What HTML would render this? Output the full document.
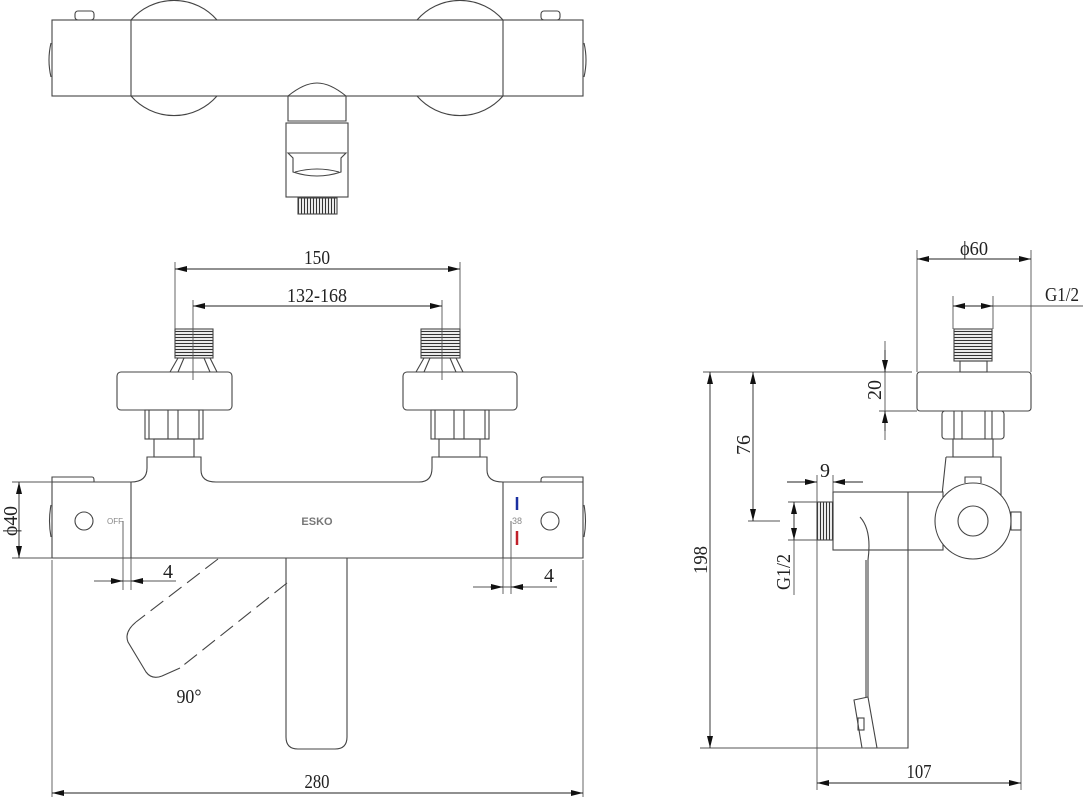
<!DOCTYPE html>
<html><head><meta charset="utf-8"><style>
html,body{margin:0;padding:0;background:#fff;}
svg{display:block;}
text{font-family:"Liberation Serif",serif;fill:#222;}
</style></head><body>
<svg width="1083" height="799" viewBox="0 0 1083 799" xmlns="http://www.w3.org/2000/svg">
<defs>
<marker id="a" viewBox="0 0 12 6" refX="12" refY="3" markerWidth="12" markerHeight="6" markerUnits="userSpaceOnUse" orient="auto-start-reverse">
<path d="M0,0 L12,3 L0,6 z" fill="#111"/></marker>
<pattern id="th" width="4" height="3" patternUnits="userSpaceOnUse"><rect width="4" height="3" fill="#fff"/><line x1="0" y1="1.5" x2="4" y2="1.5" stroke="#333" stroke-width="1.2"/></pattern>
<pattern id="tv" width="3" height="4" patternUnits="userSpaceOnUse"><rect width="3" height="4" fill="#fff"/><line x1="1.5" y1="0" x2="1.5" y2="4" stroke="#333" stroke-width="1.2"/></pattern>
</defs>
<g fill="none" stroke="#444" stroke-width="1.1">
<!-- TOP VIEW -->
<path d="M131,20 A57,57 0 0 1 217,20"/><path d="M131,96 A57,57 0 0 0 217,96"/>
<path d="M417,20 A57,57 0 0 1 503,20"/><path d="M417,96 A57,57 0 0 0 503,96"/>
<rect x="52" y="20" width="531" height="76"/>
<line x1="131" y1="20" x2="131" y2="96"/><line x1="503" y1="20" x2="503" y2="96"/>
<path d="M51,43 Q47,60 51,77"/><path d="M584,43 Q588,60 584,77"/>
<rect x="75" y="11" width="19" height="9" rx="3"/><rect x="541" y="11" width="19" height="9" rx="3"/>
<path d="M288,96 L288,121 L346,121 L346,96 Q330,83 317,83 Q304,83 288,96"/>
<rect x="286" y="123" width="62" height="74" fill="#fff"/>
<path d="M288,153 L346,153 L341,158 L341,172 Q317,180 293,172 L293,158 z"/>
<path d="M295,172 Q317,166 339,172"/>
<rect x="298" y="198" width="39" height="16" fill="url(#tv)"/>

<!-- FRONT VIEW -->
<rect x="175" y="329" width="38" height="29" fill="url(#th)"/>
<rect x="421" y="329" width="39" height="29" fill="url(#th)"/>
<path d="M170,372 L178,358 M178,372 L184,358 M204,358 L210,372 M210,358 L217,372"/>
<path d="M416,372 L424,358 M424,372 L430,358 M450,358 L456,372 M456,358 L463,372"/>
<rect x="117" y="372" width="115" height="38" rx="4"/>
<rect x="403" y="372" width="114" height="38" rx="4"/>
<rect x="145" y="410" width="58" height="29"/><line x1="168" y1="410" x2="168" y2="439"/><line x1="178" y1="410" x2="178" y2="439"/><line x1="149" y1="410" x2="149" y2="439"/><line x1="199" y1="410" x2="199" y2="439"/>
<rect x="431" y="410" width="58" height="29"/><line x1="454" y1="410" x2="454" y2="439"/><line x1="464" y1="410" x2="464" y2="439"/><line x1="435" y1="410" x2="435" y2="439"/><line x1="485" y1="410" x2="485" y2="439"/>
<rect x="154" y="439" width="40" height="18"/><rect x="439" y="439" width="41" height="18"/>
<path d="M52,477 L92,477 Q94,477 94,480 L94,482 L131,482 Q147,482 147,468 L147,457 L201,457 L201,470 Q201,482 216,482 L419,482 Q432,482 432,468 L432,457 L487,457 L487,470 Q487,482 503,482 L541,482 L541,480 Q541,477 544,477 L583,477 L583,558 L52,558 Z"/>
<line x1="52" y1="482" x2="131" y2="482"/><line x1="503" y1="482" x2="583" y2="482"/>
<line x1="131" y1="482" x2="131" y2="558"/><line x1="503" y1="482" x2="503" y2="558"/>
<path d="M51,505 Q48,521 51,537"/><path d="M584,505 Q587,521 584,537"/>
<circle cx="84" cy="521" r="9"/><circle cx="550" cy="521" r="9"/>
<path d="M286,558 L286,737 Q286,749 298,749 L335,749 Q347,749 347,737 L347,558"/>
<g stroke-dasharray="16,7"><path d="M218,559 L136,622"/><path d="M287,583 L180,668"/></g>
<path d="M136,622 Q124,632 128,642 L146,672 Q152,680 162,676 L180,668"/>
<!-- front dims -->
<g stroke="#555" stroke-width="0.9">
<line x1="175" y1="262" x2="175" y2="329"/><line x1="460" y1="262" x2="460" y2="329"/>
<line x1="193" y1="300" x2="193" y2="380"/><line x1="442" y1="300" x2="442" y2="380"/>
<line x1="12" y1="482" x2="52" y2="482"/><line x1="12" y1="558" x2="52" y2="558"/>
<line x1="123" y1="521" x2="123" y2="590"/><line x1="131" y1="558" x2="131" y2="590"/>
<line x1="503" y1="558" x2="503" y2="594"/><line x1="511" y1="521" x2="511" y2="594"/>
<line x1="52" y1="560" x2="52" y2="797"/><line x1="583" y1="560" x2="583" y2="797"/>
<line x1="94" y1="581" x2="176" y2="581"/><line x1="473" y1="587" x2="557" y2="587"/>
</g>
<g stroke="#222" stroke-width="0.9">
<line x1="175" y1="269" x2="460" y2="269" marker-start="url(#a)" marker-end="url(#a)"/>
<line x1="193" y1="306" x2="442" y2="306" marker-start="url(#a)" marker-end="url(#a)"/>
<line x1="19" y1="482" x2="19" y2="558" marker-start="url(#a)" marker-end="url(#a)"/>
<line x1="52" y1="793" x2="583" y2="793" marker-start="url(#a)" marker-end="url(#a)"/>
<line x1="110" y1="581" x2="123" y2="581" marker-end="url(#a)"/><line x1="144" y1="581" x2="131" y2="581" marker-end="url(#a)"/>
<line x1="490" y1="587" x2="503" y2="587" marker-end="url(#a)"/><line x1="524" y1="587" x2="511" y2="587" marker-end="url(#a)"/>
</g>

<!-- SIDE VIEW -->
<rect x="954" y="329" width="38" height="32" fill="url(#th)"/>
<rect x="960" y="361" width="27" height="11"/>
<rect x="917" y="372" width="114" height="39" rx="3"/>
<rect x="942" y="411" width="62" height="28" rx="3"/><line x1="954" y1="411" x2="954" y2="439"/><line x1="962" y1="411" x2="962" y2="439"/><line x1="985" y1="411" x2="985" y2="439"/><line x1="992" y1="411" x2="992" y2="439"/>
<rect x="953" y="439" width="40" height="18"/>
<path d="M946,457 L1001,457 L1001,495 M946,457 L942,495"/>
<rect x="833" y="492" width="110" height="58" fill="#fff"/>
<line x1="908" y1="492" x2="908" y2="550"/>
<circle cx="973" cy="521" r="38" fill="#fff"/>
<circle cx="973" cy="521" r="15"/>
<path d="M965,483 L965,477 L981,477 L981,483"/>
<rect x="1011" y="512" width="10" height="18"/>
<rect x="817" y="502" width="16" height="38" fill="url(#tv)"/>
<path d="M860,517 Q872,530 868,560 L868,697"/><line x1="866" y1="560" x2="866" y2="697"/>
<path d="M868,550 L908,550 M908,550 L908,748 L877,748"/>
<path d="M854,700 L868,697 L877,748 L862,748 Z"/><rect x="858" y="718" width="6" height="12"/>
<g stroke="#555" stroke-width="0.9">
<line x1="917" y1="250" x2="917" y2="372"/><line x1="1031" y1="250" x2="1031" y2="372"/>
<line x1="953" y1="296" x2="953" y2="329"/><line x1="993" y1="296" x2="993" y2="329"/>
<line x1="993" y1="306" x2="1083" y2="306"/>
<line x1="703" y1="372" x2="912" y2="372"/><line x1="879" y1="411" x2="917" y2="411"/>
<line x1="748" y1="521" x2="780" y2="521"/>
<line x1="788" y1="502" x2="817" y2="502"/><line x1="788" y1="540" x2="817" y2="540"/>
<line x1="794" y1="540" x2="794" y2="595"/>
<line x1="817" y1="475" x2="817" y2="502"/><line x1="833" y1="475" x2="833" y2="492"/>
<line x1="700" y1="748" x2="865" y2="748"/>
<line x1="817" y1="540" x2="817" y2="790"/><line x1="1021" y1="530" x2="1021" y2="790"/>
<line x1="885" y1="341" x2="885" y2="440"/>
</g>
<g stroke="#222" stroke-width="0.9">
<line x1="917" y1="259" x2="1031" y2="259" marker-start="url(#a)" marker-end="url(#a)"/>
<line x1="953" y1="306" x2="993" y2="306" marker-start="url(#a)" marker-end="url(#a)"/>
<line x1="885" y1="350" x2="885" y2="372" marker-end="url(#a)"/><line x1="885" y1="431" x2="885" y2="411" marker-end="url(#a)"/>
<line x1="753" y1="372" x2="753" y2="521" marker-start="url(#a)" marker-end="url(#a)"/>
<line x1="710" y1="372" x2="710" y2="748" marker-start="url(#a)" marker-end="url(#a)"/>
<line x1="787" y1="482" x2="817" y2="482" marker-end="url(#a)"/><line x1="863" y1="482" x2="833" y2="482" marker-end="url(#a)"/>
<line x1="794" y1="502" x2="794" y2="540" marker-start="url(#a)" marker-end="url(#a)"/>
<line x1="817" y1="783" x2="1021" y2="783" marker-start="url(#a)" marker-end="url(#a)"/>
</g>
</g>
<!-- blue/red marks -->
<line x1="517" y1="497" x2="517" y2="510" stroke="#1a2fa0" stroke-width="2.5"/>
<line x1="517" y1="531" x2="517" y2="545" stroke="#c0202a" stroke-width="2.5"/>
<!-- texts -->
<g font-size="20">
<text x="317" y="264" text-anchor="middle" textLength="26" lengthAdjust="spacingAndGlyphs">150</text>
<text x="317" y="302" text-anchor="middle" textLength="60" lengthAdjust="spacingAndGlyphs">132-168</text>
<text x="168" y="578" text-anchor="middle">4</text>
<text x="549" y="582" text-anchor="middle">4</text>
<text x="189" y="703" text-anchor="middle" textLength="25" lengthAdjust="spacingAndGlyphs">90°</text>
<text x="317" y="788" text-anchor="middle" textLength="25" lengthAdjust="spacingAndGlyphs">280</text>
<text transform="translate(17,521) rotate(-90)" text-anchor="middle" textLength="30" lengthAdjust="spacingAndGlyphs">ϕ40</text>
<text x="974" y="255" text-anchor="middle" textLength="28" lengthAdjust="spacingAndGlyphs">ϕ60</text>
<text x="1062" y="301" text-anchor="middle" textLength="34" lengthAdjust="spacingAndGlyphs">G1/2</text>
<text transform="translate(881,390) rotate(-90)" text-anchor="middle" textLength="20" lengthAdjust="spacingAndGlyphs">20</text>
<text transform="translate(750,445) rotate(-90)" text-anchor="middle" textLength="20" lengthAdjust="spacingAndGlyphs">76</text>
<text transform="translate(707,560) rotate(-90)" text-anchor="middle" textLength="28" lengthAdjust="spacingAndGlyphs">198</text>
<text transform="translate(790,572) rotate(-90)" text-anchor="middle" textLength="36" lengthAdjust="spacingAndGlyphs">G1/2</text>
<text x="825" y="477" text-anchor="middle">9</text>
<text x="919" y="778" text-anchor="middle" textLength="25" lengthAdjust="spacingAndGlyphs">107</text>
</g>
<text x="115" y="524" font-size="8" text-anchor="middle" style="font-family:'Liberation Sans',sans-serif;fill:#888">OFF</text>
<text x="317" y="525" font-size="11" text-anchor="middle" style="font-family:'Liberation Sans',sans-serif;fill:#777;font-weight:bold">ESKO</text>
<text x="517" y="524" font-size="9" text-anchor="middle" style="font-family:'Liberation Sans',sans-serif;fill:#888">38</text>
</svg>
</body></html>
